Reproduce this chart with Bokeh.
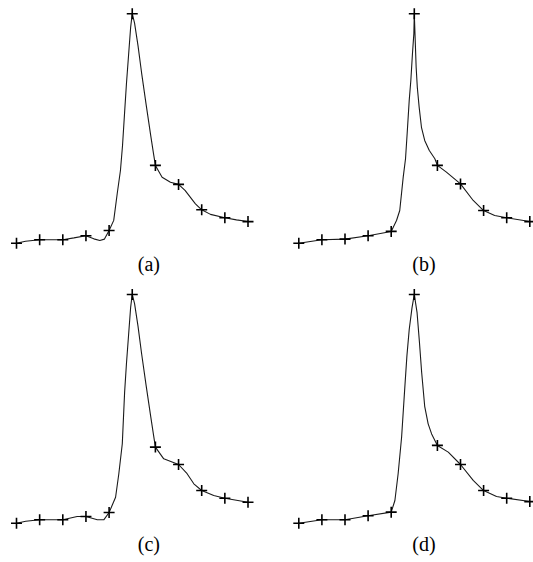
from bokeh.plotting import figure
from bokeh.layouts import gridplot
from bokeh.models import Label, Range1d
from bokeh.embed import file_html
from bokeh.resources import INLINE

# Sample positions (index of each sample along the record)
sample_t = [0, 1, 2, 3, 4, 5, 6, 7, 8, 9, 10]

# Sample amplitudes shown as crosses in each panel
samples_a = [4.3, 5.7, 5.7, 7.4, 9.6, 99.9, 36.7, 28.8, 18.2, 14.9, 13.3]
samples_b = [4.3, 5.7, 6.0, 7.4, 9.2, 99.9, 36.7, 29.0, 17.9, 14.9, 13.3]
samples_c = [4.3, 5.7, 5.7, 7.1, 8.75, 99.6, 36.0, 28.75, 17.9, 14.7, 13.0]
samples_d = [4.3, 5.7, 5.7, 7.4, 8.9, 99.6, 36.7, 28.75, 17.9, 14.7, 13.3]

# Reconstructed curves (position, amplitude)
curve_a_t = [0, 0.39, 1, 1.54, 2, 2.48, 3, 3.34, 3.6, 3.8, 4, 4.2, 4.35, 4.49,
             4.58, 4.67, 4.75, 4.84, 4.93, 5, 5.1, 5.25, 5.4, 5.6, 5.8, 5.92,
             6, 6.29, 6.65, 7, 7.28, 7.73, 8, 8.38, 9, 9.5, 10]
curve_a_v = [4.3, 5.1, 5.7, 5.7, 5.7, 6.5, 7.4, 6.1, 5.4, 6.0, 9.6, 13.8, 24.9,
             34.6, 45.0, 58.8, 70.8, 82.5, 94.2, 99.9, 96.0, 86.5, 75.5, 62.0,
             49.0, 41.5, 36.7, 31.8, 29.7, 28.8, 26.3, 20.7, 18.2, 16.3, 14.9,
             14.0, 13.3]

curve_b_t = [0, 1, 2, 3, 4, 4.23, 4.37, 4.52, 4.62, 4.69, 4.78, 4.85, 4.92,
             4.98, 5, 5.08, 5.13, 5.21, 5.31, 5.45, 5.65, 5.89, 6, 6.39, 7,
             7.55, 8, 8.48, 9, 10]
curve_b_v = [4.3, 5.7, 6.0, 7.4, 9.2, 13.75, 17.9, 31.8, 39.5, 49.9, 63.8,
             72.1, 83.2, 91.5, 99.9, 77.6, 69.3, 61.0, 52.6, 47.1, 42.9, 39.5,
             36.7, 33.9, 29.0, 22.1, 17.9, 15.8, 14.9, 13.3]

curve_c_t = [0, 0.4, 1, 1.5, 2, 2.62, 3, 3.49, 3.77, 4, 4.28, 4.42, 4.57,
             4.67, 4.75, 4.84, 4.93, 5, 5.1, 5.25, 5.4, 5.6, 5.8, 5.92, 6,
             6.36, 7, 7.37, 7.66, 8, 8.52, 9, 10]
curve_c_v = [4.3, 5.1, 5.7, 5.7, 5.7, 7.1, 7.1, 5.7, 5.7, 8.75, 15.1, 24.9,
             37.4, 58.8, 70.8, 82.5, 94.2, 99.6, 95.8, 86.3, 75.2, 61.6, 48.6,
             41.0, 36.0, 31.1, 28.75, 24.9, 20.7, 17.9, 15.8, 14.7, 13.0]

curve_d_t = [0, 1, 2, 3, 4, 4.16, 4.30, 4.45, 4.59, 4.68, 4.78, 4.9, 5, 5.12,
             5.22, 5.32, 5.45, 5.6, 5.75, 6, 6.47, 7, 7.55, 8, 8.56, 9, 10]
curve_d_v = [4.3, 5.7, 5.7, 7.4, 8.9, 13.75, 24.9, 40.1, 61.0, 74.0, 85.0,
             94.0, 99.6, 92.0, 80.0, 67.0, 53.0, 45.7, 41.5, 36.7, 33.9, 28.75,
             22.1, 17.9, 15.4, 14.7, 13.3]

panel_labels = ["(a)", "(b)", "(c)", "(d)"]


def panel(curve_t, curve_v, samples, label, width, height, x_view, label_x):
    p = figure(width=width, height=height, output_backend="svg",
               toolbar_location=None, min_border=0,
               x_axis_location=None, y_axis_location=None,
               x_range=Range1d(*x_view),
               y_range=Range1d(-(height - 253) / 2.4, 253 / 2.4))
    p.outline_line_color = None
    p.xgrid.grid_line_color = None
    p.ygrid.grid_line_color = None
    p.background_fill_color = "white"
    p.border_fill_color = "white"
    p.line(curve_t, curve_v, line_color="#1a1a1a", line_width=1.1)
    p.scatter(sample_t, samples, marker="cross", size=11,
              line_color="black", line_width=1.6)
    p.add_layout(Label(x=label_x, y=-4.2, text=label,
                       text_font="Liberation Serif", text_font_size="20px",
                       text_color="black", text_align="center",
                       text_baseline="middle"))
    return p


left_view = (-16 / 23.15, (266 - 16) / 23.15)
right_view = (-32.3 / 23.1, (267 - 32.3) / 23.1)

pa = panel(curve_a_t, curve_a_v, samples_a, panel_labels[0], 266, 280, left_view, 5.72)
pb = panel(curve_b_t, curve_b_v, samples_b, panel_labels[1], 267, 280, right_view, 5.42)
pc = panel(curve_c_t, curve_c_v, samples_c, panel_labels[2], 266, 282, left_view, 5.72)
pd = panel(curve_d_t, curve_d_v, samples_d, panel_labels[3], 267, 282, right_view, 5.42)

grid = gridplot([[pa, pb], [pc, pd]], toolbar_location=None)

open("out.html", "w").write(file_html(grid, INLINE))
